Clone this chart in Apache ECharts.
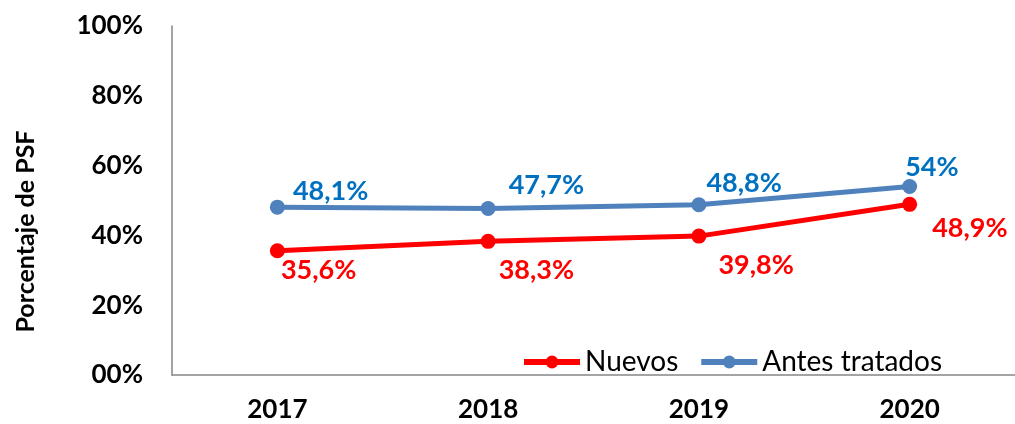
<!DOCTYPE html>
<html>
<head>
<meta charset="UTF-8">
<title>Porcentaje de PSF</title>
<script src="https://cdn.jsdelivr.net/npm/echarts@6/dist/echarts.min.js"></script>
<style>
body{margin:0;padding:0;background:#fff;}
#main{width:1015px;height:424px;}
</style>
</head>
<body>
<div id="main"></div>
<script type="text/javascript">
// datos
var years = ['2017', '2018', '2019', '2020'];
var nuevos = [35.6, 38.3, 39.8, 48.9];
var antesTratados = [48.1, 47.7, 48.8, 54];
var yTickLabels = ['00%', '20%', '40%', '60%', '80%', '100%'];

// desplazamiento de las etiquetas (x, y) respecto al punto
var offNuevos = [[-4, 20], [3, 29], [12, 29], [15, 24]];
var offAntes = [[8, -16], [13, -23], [0, -21], [-12, -19]];

var fmt = function (p) {
    return String(p.value).replace('.', ',') + '%';
};

function buildData(values, offs) {
    return values.map(function (v, i) {
        return { value: v, label: { offset: offs[i] } };
    });
}

var myChart = echarts.init(document.getElementById('main'));
myChart.setOption({
    animation: false,
    textStyle: { fontFamily: 'Lato' },
    grid: { left: 172, top: 26, bottom: 49, right: -5 },
    legend: {
        left: 516,
        top: 343,
        itemWidth: 56,
        itemHeight: 16,
        itemGap: 20,
        lineStyle: { width: 6 },
        textStyle: { fontSize: 28, color: '#000', fontFamily: 'Lato' },
        data: ['Nuevos', 'Antes tratados']
    },
    xAxis: {
        type: 'category',
        data: years,
        axisLine: { lineStyle: { color: '#868686', width: 1.5 } },
        axisTick: { show: false },
        axisLabel: { fontSize: 26, fontWeight: 'bold', color: '#000', margin: 22 }
    },
    yAxis: {
        type: 'value',
        min: 0,
        max: 100,
        interval: 20,
        name: 'Porcentaje de PSF',
        nameLocation: 'middle',
        nameGap: 134,
        nameTextStyle: { fontSize: 25, fontWeight: 'bold', color: '#000', padding: [0, 62, 0, 0] },
        axisLine: { show: true, lineStyle: { color: '#868686', width: 1.5 } },
        axisTick: { show: false },
        splitLine: { show: false },
        axisLabel: {
            fontSize: 26, fontWeight: 'bold', color: '#000', margin: 29,
            formatter: function (v) { return yTickLabels[Math.round(v / 20)]; }
        }
    },
    series: [
        {
            name: 'Nuevos',
            type: 'line',
            symbol: 'circle',
            symbolSize: 15,
            lineStyle: { color: '#FF0000', width: 5 },
            itemStyle: { color: '#FF0000' },
            label: {
                show: true, position: 'right', distance: 0,
                align: 'left', verticalAlign: 'middle',
                color: '#FF0000', fontSize: 27, fontWeight: 'bold',
                formatter: fmt
            },
            data: buildData(nuevos, offNuevos)
        },
        {
            name: 'Antes tratados',
            type: 'line',
            symbol: 'circle',
            symbolSize: 15,
            lineStyle: { color: '#4F81BD', width: 5 },
            itemStyle: { color: '#4F81BD' },
            label: {
                show: true, position: 'right', distance: 0,
                align: 'left', verticalAlign: 'middle',
                color: '#0070C0', fontSize: 27, fontWeight: 'bold',
                formatter: fmt
            },
            data: buildData(antesTratados, offAntes)
        }
    ]
});
</script>
</body>
</html>
